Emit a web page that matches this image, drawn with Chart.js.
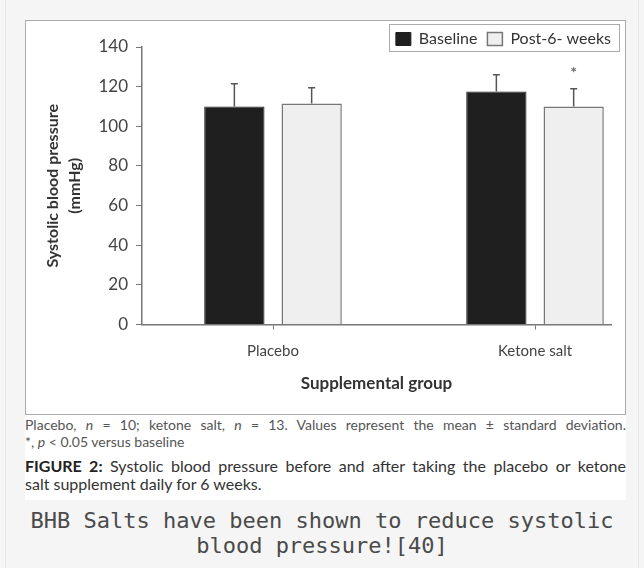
<!DOCTYPE html>
<html>
<head>
<meta charset="utf-8">
<script src="https://cdn.jsdelivr.net/npm/chart.js@4"></script>
<style>
  body { margin: 0; background: #f5f5f5; width: 644px; height: 568px; overflow: hidden; font-family: Lato, sans-serif; }
  .frame { position: absolute; left: 5px; top: 0; width: 632px; height: 568px; border-left: 1px solid #e6e6e6; border-right: 1px solid #e6e6e6; }
  .figure { position: absolute; left: 25px; top: 20px; width: 601px; }
  .chartbox { width: 601px; height: 395px; border: 1px solid #aaa; background: #fff; box-sizing: border-box; }
  .chartbox canvas { display: block; }
  .caption { background: #fff; height: 85px; padding-top: 1px; box-sizing: border-box; }
  .note { font-size: 14px; line-height: 17px; color: #555; }
  .fig { font-size: 16px; line-height: 18px; color: #333; margin-top: 7px; }
  .full { text-align: justify; text-align-last: justify; white-space: nowrap; }
  .fig b { color: #222; }
  .remark { position: absolute; left: 0; top: 508px; width: 644px; text-align: center; font-family: "DejaVu Sans Mono", monospace; font-size: 22px; line-height: 25px; color: #4a4a4a; }
</style>
</head>
<body>
<div class="frame"></div>
<div class="figure">
  <div class="chartbox"><canvas id="chart" width="599" height="393"></canvas></div>
  <div class="caption">
    <div class="note">
      <div class="full">Placebo, <i>n</i> = 10; ketone salt, <i>n</i> = 13. Values represent the mean ± standard deviation.</div>
      <div>*, <i>p</i> &lt; 0.05 versus baseline</div>
    </div>
    <div class="fig">
      <div class="full"><b>FIGURE 2:</b> Systolic blood pressure before and after taking the placebo or ketone</div>
      <div>salt supplement daily for 6 weeks.</div>
    </div>
  </div>
</div>
<div class="remark">BHB Salts have been shown to reduce systolic<br>blood pressure![40]</div>

<script>
const categories = ['Placebo', 'Ketone salt'];
const seriesNames = ['Baseline', 'Post-6- weeks'];
const baseline = [110, 117.5];
const baselineSD = [11.5, 8.5];
const post = [111.5, 110];
const postSD = [8, 9];
const postSignificant = [false, true];
const yTicks = [0, 20, 40, 60, 80, 100, 120, 140];

Chart.defaults.font.family = 'Lato, sans-serif';

// mean + SD whiskers, plus the significance star
const errorBars = {
  id: 'errorBars',
  afterDatasetsDraw(chart) {
    const { ctx } = chart;
    const y = chart.scales.y;
    ctx.save();
    ctx.strokeStyle = '#555';
    ctx.lineWidth = 1.5;
    chart.data.datasets.forEach((ds, di) => {
      chart.getDatasetMeta(di).data.forEach((bar, i) => {
        const top = y.getPixelForValue(ds.data[i].y + ds.sd[i]);
        ctx.beginPath();
        ctx.moveTo(bar.x, bar.y);
        ctx.lineTo(bar.x, top);
        ctx.moveTo(bar.x - 3.5, top);
        ctx.lineTo(bar.x + 3.5, top);
        ctx.stroke();
        if (ds.sig && ds.sig[i]) {
          ctx.fillStyle = '#666';
          ctx.font = 'bold 16px Lato, sans-serif';
          ctx.textAlign = 'center';
          ctx.textBaseline = 'middle';
          ctx.fillText('*', bar.x, top - 16);
        }
      });
    });
    ctx.restore();
  },
};

// thin frame around the legend
const legendFrame = {
  id: 'legendFrame',
  afterDraw(chart) {
    const boxes = chart.legend && chart.legend.legendHitBoxes;
    if (!boxes || !boxes.length) return;
    const left = Math.min(...boxes.map((b) => b.left)) - 7;
    const right = Math.max(...boxes.map((b) => b.left + b.width)) + 8;
    const top = boxes[0].top - 7;
    const bottom = boxes[0].top + boxes[0].height + 4;
    const { ctx } = chart;
    ctx.save();
    ctx.strokeStyle = '#aaa';
    ctx.lineWidth = 1;
    ctx.strokeRect(Math.round(left) + 0.5, Math.round(top) + 0.5, Math.round(right - left), Math.round(bottom - top));
    ctx.restore();
  },
};

new Chart(document.getElementById('chart'), {
  type: 'bar',
  data: {
    datasets: [
      {
        label: seriesNames[0],
        data: baseline.map((v, i) => ({ x: i, y: v })),
        sd: baselineSD,
        backgroundColor: '#1f1f1f',
        borderColor: '#1f1f1f',
        borderWidth: 1,
      },
      {
        label: seriesNames[1],
        data: post.map((v, i) => ({ x: i, y: v })),
        sd: postSD,
        sig: postSignificant,
        backgroundColor: '#efefef',
        borderColor: '#777',
        borderWidth: 1.5,
      },
    ],
  },
  options: {
    responsive: false,
    animation: false,
    categoryPercentage: 0.59,
    barPercentage: 0.78,
    layout: { padding: { left: 4, right: 4, top: 0, bottom: 20 } },
    plugins: {
      tooltip: { enabled: false },
      legend: {
        position: 'top',
        align: 'end',
        maxHeight: 26,
        labels: {
          boxWidth: 15,
          boxHeight: 13,
          padding: 10,
          color: '#333',
          font: { size: 16 },
        },
      },
    },
    scales: {
      x: {
        type: 'linear',
        min: -0.5,
        max: 1.29,
        offset: false,
        afterBuildTicks: (s) => { s.ticks = categories.map((c, i) => ({ value: i })); },
        border: { color: '#777', width: 1.5 },
        grid: { offset: false, drawOnChartArea: false, drawTicks: true, tickLength: 5, color: '#777' },
        ticks: { callback: (v) => categories[v], color: '#444', font: { size: 15 }, padding: 13 },
        title: {
          display: true,
          text: 'Supplemental group',
          color: '#333',
          font: { size: 17, weight: 'bold' },
          padding: { top: 0, bottom: 0 },
        },
      },
      y: {
        min: 0,
        max: 140,
        afterBuildTicks: (s) => { s.ticks = yTicks.map((v) => ({ value: v })); },
        afterFit: (s) => { s.width = 112; },
        border: { color: '#777', width: 1.5 },
        grid: { drawOnChartArea: false, drawTicks: true, tickLength: 6, color: '#777' },
        ticks: { color: '#444', font: { size: 17 }, padding: 8 },
        title: {
          display: true,
          text: ['Systolic blood pressure', '(mmHg)'],
          color: '#333',
          font: { size: 16, weight: 'bold', lineHeight: 1.375 },
          padding: { top: 12, bottom: 0 },
        },
      },
      yRight: {
        position: 'right',
        display: true,
        afterFit: (s) => { s.width = 10; },
        grid: { display: false },
        border: { display: false },
        ticks: { display: false },
      },
    },
  },
  plugins: [errorBars, legendFrame],
});
</script>
</body>
</html>
